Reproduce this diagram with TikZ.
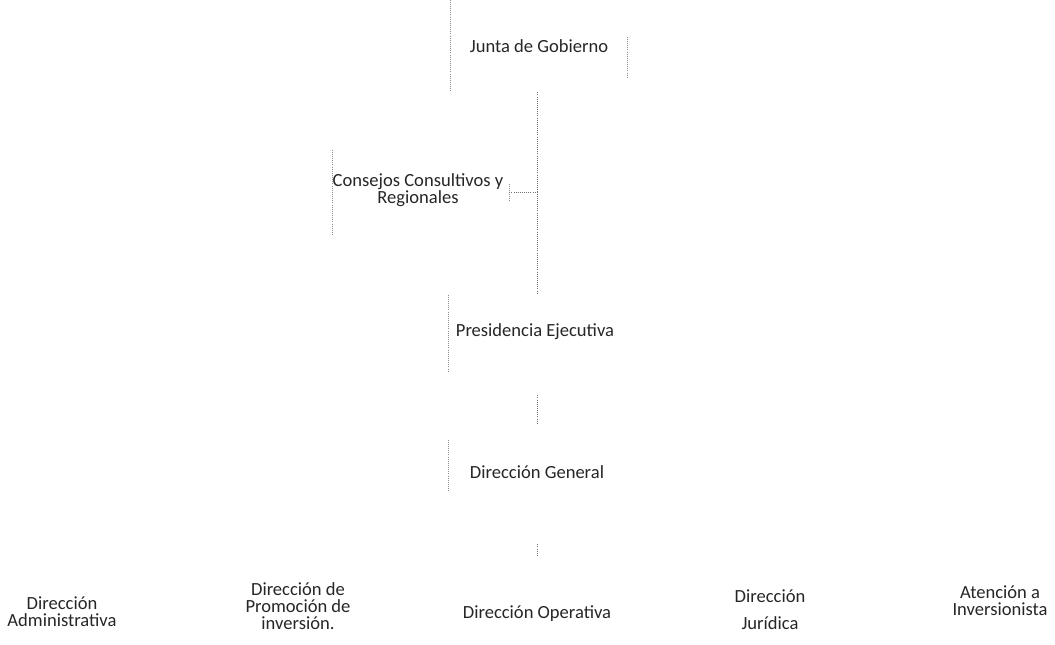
\documentclass[tikz,border=0pt]{standalone}
\usepackage{fontspec}
\setmainfont{Carlito}
\usetikzlibrary{positioning,calc}

\begin{document}
\begin{tikzpicture}[x=0.025cm,y=-0.025cm,
	unidad/.style={align=center,font=\fontsize{13.2}{12}\selectfont,text=black!85,inner sep=0pt},
	caja/.style={minimum width=4.4cm,inner sep=0pt},
	borde/.style={densely dotted,black!45,line width=0.5pt},
	enlace/.style={densely dotted,black!55,line width=0.5pt}]
	\useasboundingbox (0,0) rectangle (1055,645);
	% cajas (solo quedan restos de los bordes)
	\path (539,46) node[caja,minimum height=2.3cm] (junta) {}
		(421,192) node[caja,minimum height=2.1cm] (consejos) {}
		(537,333) node[caja,minimum height=1.9cm] (presi) {}
		(537,466) node[caja,minimum height=1.3cm] (general) {};
	\node[unidad] at (539,46) {Junta de Gobierno};
	\node[unidad] at (418,190) {Consejos Consultivos y\\Regionales};
	\node[unidad] at (535,332) {Presidencia Ejecutiva};
	\node[unidad] at (537,472) {Dirección General};
	% fila inferior
	\node[unidad] (admin) at (62,612) {Dirección\\Administrativa};
	\node[unidad] (promo) at (298,606) {Dirección de\\Promoción de\\inversión.};
	\node[unidad] (opera) at (537,614) {Dirección Operativa};
	\node[unidad,font=\fontsize{13.2}{19}\selectfont] (juridica) at (770,610) {Dirección\\Jurídica};
	\node[unidad] (atencion) at (1000,601) {Atención a\\Inversionista};
	\coordinate (eje) at (537,0);
	\draw[borde] (junta.north west) -- (junta.south west);
	\draw[borde] ($(junta.north east)!0.4!(junta.south east)$) -- ($(junta.north east)!0.85!(junta.south east)$);
	\draw[borde] (consejos.north west) -- (consejos.south west);
	\draw[borde] ($(consejos.north east)!0.4!(consejos.south east)$) -- ($(consejos.north east)!0.6!(consejos.south east)$);
	\draw[borde] (presi.north west) -- (presi.south west);
	\draw[borde] (general.north west) -- (general.south west);
	\draw[borde] ([yshift=-1.6cm]opera.north west) -- +(0,-0.3);
	% conectores
	\draw[enlace] (junta.south -| eje) -- (presi.north -| eje);
	\draw[enlace] (consejos.east) -- (consejos.east -| eje);
	\draw[enlace] ([yshift=-0.6cm]presi.south -| eje) -- ([yshift=0.4cm]general.north -| eje);
	\draw[enlace] ([yshift=-1.3cm]general.south -| eje) -- ([yshift=-1.6cm]general.south -| eje);
\end{tikzpicture}
\end{document}
